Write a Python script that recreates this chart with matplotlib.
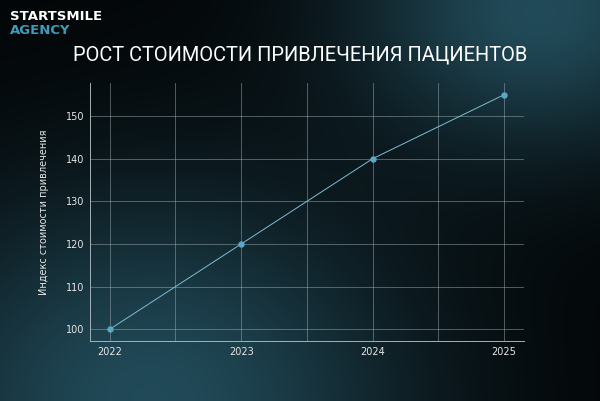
import matplotlib
matplotlib.use("Agg")
import matplotlib.pyplot as plt
import numpy as np

years = [2022, 2023, 2024, 2025]
index_values = [100, 120, 140, 155]
y_ticks = [100, 110, 120, 130, 140, 150]

title = "РОСТ СТОИМОСТИ ПРИВЛЕЧЕНИЯ ПАЦИЕНТОВ"
ylabel = "Индекс стоимости привлечения"

W, H = 600, 401
fig = plt.figure(figsize=(W / 100, H / 100), dpi=100)

# background: black with two teal glows
yy, xx = np.mgrid[0:H, 0:W].astype(float)
base = np.array([0.01, 0.02, 0.025])
g1 = np.exp(-(((xx - 540) / 135) ** 2 + ((yy - 10) / 100) ** 2) / 2)
g2 = np.exp(-(((xx - 150) / 185) ** 2 + ((yy - 400) / 150) ** 2) / 2)
c1 = np.array([0.12, 0.27, 0.32])
c2 = np.array([0.12, 0.27, 0.32])
img = base + g1[..., None] * c1 + g2[..., None] * c2
bg = fig.add_axes([0, 0, 1, 1], zorder=-1)
bg.imshow(np.clip(img, 0, 1), aspect="auto", extent=[0, 1, 0, 1])
bg.axis("off")

ax = fig.add_axes([0.15, 0.1496, 0.723, 0.6434])
ax.set_facecolor("none")
ax.plot(years, index_values, color="#7fbdd4", lw=0.7, marker="o",
        markersize=3.6, markerfacecolor="#5aa8c8", markeredgecolor="#5aa8c8")

ax.set_xticks(years)
ax.set_xticks([2022.5, 2023.5, 2024.5], minor=True)
ax.set_yticks(y_ticks)
ax.tick_params(which="both", length=0, colors="#e6e6e6", labelsize=7, pad=4)
ax.grid(True, which="both", color="#a4b2b7", lw=0.6, alpha=0.55)
for side in ["top", "right"]:
    ax.spines[side].set_visible(False)
for side in ["left", "bottom"]:
    ax.spines[side].set_color("#a4b2b7")
    ax.spines[side].set_linewidth(0.7)
ax.set_ylabel(ylabel, color="#e6e6e6", fontsize=7, labelpad=12)

fig.text(0.017, 0.950, "STARTSMILE", color="white", fontsize=9.5,
         fontweight="bold", family="DejaVu Sans", va="baseline")
fig.text(0.017, 0.915, "AGENCY", color="#3d9bbb", fontsize=9.5,
         fontweight="bold", family="DejaVu Sans", va="baseline")
fig.text(0.5, 0.848, title, color="white", fontsize=14.4, family="Roboto",
         ha="center", va="baseline")

fig.savefig("out.png", dpi=100)
